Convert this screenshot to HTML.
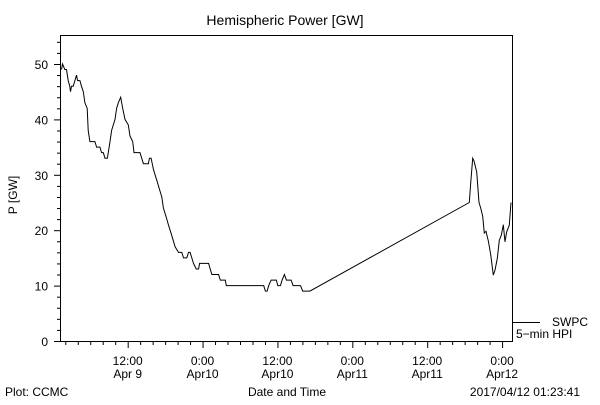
<!DOCTYPE html>
<html><head><meta charset="utf-8"><style>
body{margin:0;background:#fff}
svg text{font-family:"Liberation Sans","DejaVu Sans",sans-serif;fill:#000}
</style></head><body>
<svg id="chart" width="600" height="400" viewBox="0 0 600 400" xmlns="http://www.w3.org/2000/svg">
<rect width="600" height="400" fill="#fff"/>
<text x="285" y="25" font-size="14" text-anchor="middle">Hemispheric Power [GW]</text>
<g id="axes"></g>
<polyline id="series" fill="none" stroke="#000" stroke-width="1"/>
<line x1="513" y1="322.5" x2="540" y2="322.5" stroke="#000"/>
<text x="552" y="326" font-size="12">SWPC</text>
<text x="516" y="338" font-size="12">5−min HPI</text>
<text transform="translate(17,195) rotate(-90)" font-size="12" text-anchor="middle">P [GW]</text>
<text x="287" y="396" font-size="12" text-anchor="middle">Date and Time</text>
<text x="5" y="396" font-size="12">Plot: CCMC</text>
<text x="580" y="396" font-size="12" text-anchor="end">2017/04/12 01:23:41</text>
</svg>
<script>
// hours since Apr 9 00:00
const hours=[1.4,1.56,1.93,2.2,2.47,2.73,2.84,3.0,3.27,3.54,3.8,3.97,4.34,4.6,4.88,5.14,5.52,5.68,5.95,6.75,7.02,7.55,7.82,8.09,8.36,8.73,8.89,9.16,9.43,9.7,9.96,10.23,10.5,10.88,11.2,11.57,12.1,12.37,12.8,13.02,13.98,14.25,14.52,15.32,15.48,15.75,16.12,16.66,17.2,17.46,17.73,18.27,18.53,18.8,19.07,19.34,19.6,20.14,20.68,20.94,21.48,21.75,22.0,22.28,22.55,22.98,23.36,23.52,24.96,25.23,25.5,26.57,26.84,27.64,27.8,33.8,34.07,34.34,34.6,34.98,35.84,36.05,36.48,36.75,37.12,37.44,38.19,38.51,39.69,40.05,41.2,66.75,66.97,67.29,67.5,67.93,68.3,68.57,68.9,69.15,69.42,69.8,70.17,70.6,70.87,71.24,71.56,71.88,72.2,72.47,72.74,73.16,73.43];
const power=[49,50,49,49,47,46,45,46,46,47,48,47,47,46,45,43,42,38,36,36,35,35,34,34,33,33,34,36,38,39,40,42,43,44,42,40,39,37,36,34,34,33,32,32,33,33,31,29,27,26,24,22,21,20,19,18,17,16,16,15,15,16,16,15,14,13,13,14,14,13,12,12,11,11,10,10,9,9,10,11,11,10,10,11,12,11,11,10,10,9,9,25,28.5,33,32.5,30.5,25,24,22.5,19.5,19.8,18,15.6,11.9,12.8,14.9,18.2,19.1,21,17.9,19.7,20.9,25];
const yTicks=[0,10,20,30,40,50];
const xTickHours=[12,24,36,48,60,72];
const xTickLabels=[["12:00","Apr 9"],["0:00","Apr10"],["12:00","Apr10"],["0:00","Apr11"],["12:00","Apr11"],["0:00","Apr12"]];

const L=60,R=512,T=35,B=341;
const xs=h=>52.8+h*6.24;
const ys=v=>341-v*5.54;
const NS="http://www.w3.org/2000/svg";
const ax=document.getElementById('axes');
function mk(tag,attrs){const e=document.createElementNS(NS,tag);for(const k in attrs)e.setAttribute(k,attrs[k]);ax.appendChild(e);return e;}
const frame=mk('rect',{x:L+0.5,y:T+0.5,width:R-L,height:B-T,fill:'none',stroke:'#000'});


for(let v=0;v<=54;v+=2){const major=v%10===0;const t=mk('line',{x1:L-(major?6:3),x2:L,y1:ys(v)+0.5,y2:ys(v)+0.5,stroke:'#000'});

}
yTicks.forEach(v=>{const t=mk('text',{x:L-12,y:ys(v)+5,'font-size':12,'text-anchor':'end'});t.textContent=v;

});
for(let h=2;h<=74;h+=2){const x=xs(h);if(x<L||x>R)continue;const major=h%12===0;const t=mk('line',{x1:x+0.5,x2:x+0.5,y1:B,y2:B+(major?7:4),stroke:'#000'});

}
xTickHours.forEach((h,i)=>{const x=xs(h);const t1=mk('text',{x:x,y:B+24,'font-size':12,'text-anchor':'middle'});t1.textContent=xTickLabels[i][0];


const t2=mk('text',{x:x,y:B+37,'font-size':12,'text-anchor':'middle'});t2.textContent=xTickLabels[i][1];

});
document.getElementById('series').setAttribute('points',hours.map((h,i)=>xs(h).toFixed(1)+','+ys(power[i]).toFixed(1)).join(' '));
</script>
</body></html>
